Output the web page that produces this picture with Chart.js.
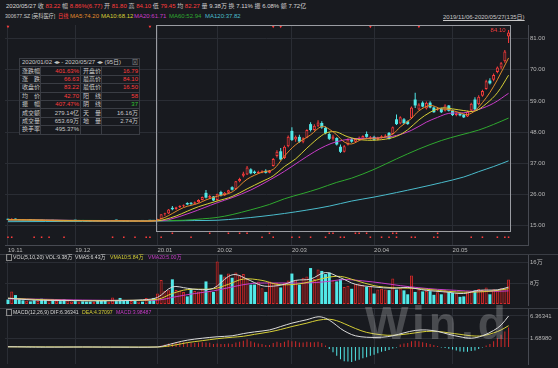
<!DOCTYPE html>
<html>
<head>
<meta charset="utf-8">
<script src="https://cdn.jsdelivr.net/npm/chart.js@4.4.1/dist/chart.umd.min.js"></script>
<style>
  body { margin: 0; background: #181a1f; }
  .wrap { position: relative; width: 558px; height: 368px; background: #181a1f; overflow: hidden;
          font-family: "Liberation Sans", "Noto Sans CJK SC", sans-serif; font-size: 6px; color: #c8c8c8; }
  canvas { position: absolute; left: 0; }
  .txt { position: absolute; white-space: nowrap; line-height: 8px; }
  .cond { transform: scaleX(0.86); transform-origin: 0 0; }
  .r { color: #ff3c3c; } .w { color: #d8d8d8; } .g { color: #31c431; }
  .hline { position: absolute; left: 0; width: 558px; height: 1px; background: #3a3d44; }
  .stat { position: absolute; left: 19px; top: 58px; width: 120px; table-layout: fixed; border-collapse: collapse;
          background: #181a1f; font-size: 6px; line-height: 7px; color: #c8c8c8; }
  .stat td { border: 1px solid #3a3d44; padding: 0 1px 0 2px; height: 7.4px; white-space: nowrap; overflow: hidden; }
  .stat td.v { text-align: right; }
  .box { position: absolute; width: 4px; height: 5px; border: 1px solid #888; }
  .mark { position: absolute; left: 365px; top: 296px; font: bold 46px "Liberation Sans", sans-serif;
          letter-spacing: 4px; color: rgba(215, 215, 215, 0.26); pointer-events: none; }
</style>
</head>
<body>
<div class="wrap">
  <canvas id="price" width="558" height="234" style="top:21px"></canvas>
  <canvas id="vol" width="558" height="54" style="top:254px"></canvas>
  <canvas id="macd" width="558" height="60" style="top:308px"></canvas>

  <div class="hline" style="top:254px"></div>
  <div class="hline" style="top:308px"></div>

  <div class="txt" style="left:6px;top:2px">
    <span class="w">2020/05/27</span> 收 <span class="r">83.22</span> 幅 <span class="r">8.86%(6.77)</span>
    开 <span class="r">81.80</span> 高 <span class="r">84.10</span> 低 <span class="r">79.45</span>
    均 <span class="r">82.27</span> 量 <span class="w">9.38万</span> 换 <span class="w">7.11%</span>
    振 <span class="w">6.08%</span> 额 <span class="w">7.72亿</span>
  </div>
  <div class="txt cond" style="left:5px;top:12px">300677.SZ [英科医疗]</div>
  <div class="txt r cond" style="left:58px;top:12px">日线</div>
  <div class="txt" style="left:70px;top:12px;color:#e08a2c">MA5:74.20</div>
  <div class="txt" style="left:101px;top:12px;color:#d6cf36">MA10:68.12</div>
  <div class="txt" style="left:134px;top:12px;color:#c83cc8">MA20:61.71</div>
  <div class="txt" style="left:169px;top:12px;color:#2fa82f">MA60:52.94</div>
  <div class="txt" style="left:205px;top:12px;color:#4bbccc">MA120:37.82</div>
  <div class="txt" style="left:443px;top:13px;color:#c8c8c8;text-decoration:underline">2019/11/06-2020/05/27(135日)</div>

  <table class="stat">
    <colgroup><col style="width:21px"><col style="width:40px"><col style="width:21px"><col style="width:38px"></colgroup>
    <tr><td colspan="4">2020/01/02 ◂▸ - 2020/05/27 ◂▸ (95日)<span style="float:right;color:#888">⊠</span></td></tr>
    <tr><td>涨跌幅</td><td class="v r">401.63%</td><td>开盘价</td><td class="v r">16.79</td></tr>
    <tr><td>涨　跌</td><td class="v r">66.63</td><td>最高价</td><td class="v r">84.10</td></tr>
    <tr><td>收盘价</td><td class="v r">83.22</td><td>最低价</td><td class="v r">16.50</td></tr>
    <tr><td>均　价</td><td class="v r">42.70</td><td>阳　线</td><td class="v r">58</td></tr>
    <tr><td>振　幅</td><td class="v r">407.47%</td><td>阴　线</td><td class="v g">37</td></tr>
    <tr><td>成交额</td><td class="v">279.14亿</td><td>天　量</td><td class="v">16.16万</td></tr>
    <tr><td>成交量</td><td class="v">653.69万</td><td>地　量</td><td class="v">2.74万</td></tr>
    <tr><td>换手率</td><td class="v">495.37%</td><td></td><td></td></tr>
  </table>

  <div class="box" style="left:6px;top:254px"></div>
  <div class="txt cond w" style="left:13px;top:253px">VOL(5,10,20) VOL:9.38万</div>
  <div class="txt cond w" style="left:75px;top:253px">VMA5:6.43万</div>
  <div class="txt cond" style="left:110px;top:253px;color:#d6cf36">VMA10:5.84万</div>
  <div class="txt cond" style="left:148px;top:253px;color:#c83cc8">VMA20:5.00万</div>

  <div class="box" style="left:6px;top:309px"></div>
  <div class="txt cond w" style="left:13px;top:308px">MACD(12,26,9) DIF:6.36341</div>
  <div class="txt cond" style="left:82px;top:308px;color:#d6cf36">DEA:4.37097</div>
  <div class="txt cond" style="left:116px;top:308px;color:#c83cc8">MACD:3.98487</div>

  <div class="mark">Win.d</div>
</div>

<script>
// daily candles 2019/11/06 .. 2020/05/27 (135 trading days)
const open = [17.20,16.95,17.30,17.00,16.90,16.75,16.90,16.85,16.65,16.80,16.60,16.55,16.75,16.60,16.68,16.50,16.45,16.62,
  16.72,16.65,16.70,16.55,16.50,16.42,16.55,16.45,16.40,16.35,16.55,16.85,16.70,16.52,16.45,16.40,16.58,16.50,16.66,16.55,16.78,16.62,
  16.79,17.25,18.90,19.20,21.20,20.70,21.40,21.90,22.90,22.90,22.60,23.20,24.00,26.50,24.80,25.20,
  24.00,26.80,25.60,26.50,28.50,27.90,30.60,32.50,33.00,34.80,34.00,33.50,33.60,34.30,33.60,36.00,39.50,41.20,38.80,43.00,
  48.40,45.40,46.30,44.60,46.00,50.80,48.70,50.20,51.20,49.50,47.30,45.60,45.90,42.80,41.00,43.50,45.40,44.60,45.20,45.60,47.30,45.80,
  46.30,45.30,46.00,46.30,47.70,47.30,52.50,51.00,52.50,51.80,52.90,59.50,56.00,58.40,56.30,58.40,56.70,55.90,56.30,55.50,57.40,
  55.60,54.00,54.50,54.20,53.50,55.60,59.50,57.80,60.80,63.20,66.20,66.50,69.20,70.80,73.00,81.80];
const high = [17.35,17.50,17.40,17.10,16.95,16.95,17.00,16.90,16.85,16.90,16.70,16.80,16.80,16.75,16.72,16.62,16.70,16.75,
  16.85,16.78,16.74,16.62,16.55,16.60,16.60,16.50,16.50,16.60,16.90,16.95,16.75,16.60,16.55,16.62,16.65,16.70,16.72,16.85,16.82,16.70,
  17.30,18.92,19.50,20.80,21.80,21.60,22.10,22.40,23.20,23.30,23.40,24.20,25.20,27.50,25.80,25.40,
  26.18,27.20,26.80,27.60,28.80,30.70,31.80,34.00,36.00,35.20,34.40,34.30,34.50,34.80,34.60,38.80,41.60,42.40,43.20,46.80,
  49.70,46.80,47.00,46.20,49.00,51.50,50.80,52.20,51.80,50.00,47.80,47.00,46.20,43.60,43.40,45.80,46.00,45.90,46.40,46.90,48.20,46.60,
  46.70,46.30,46.90,47.20,48.00,50.00,54.20,53.60,53.00,52.10,57.00,61.90,58.20,58.90,58.80,58.90,57.00,56.70,56.60,57.80,57.60,
  56.00,54.90,54.80,54.40,55.50,58.40,60.30,61.00,63.00,66.50,67.00,68.70,71.20,72.80,77.00,84.10];
const low = [16.90,16.90,16.95,16.80,16.70,16.70,16.80,16.60,16.60,16.55,16.45,16.50,16.55,16.50,16.45,16.35,16.40,16.55,
  16.60,16.55,16.50,16.40,16.35,16.40,16.40,16.30,16.28,16.32,16.50,16.60,16.45,16.38,16.35,16.38,16.45,16.48,16.50,16.52,16.55,16.50,
  16.50,17.20,18.40,19.00,20.30,20.50,21.10,21.50,22.10,22.20,22.40,23.00,23.80,24.50,24.40,23.60,
  23.50,25.20,25.40,26.20,27.30,27.70,30.20,32.00,32.80,33.10,33.20,33.20,33.40,33.30,33.40,35.80,39.00,38.00,38.50,42.60,
  44.80,44.60,44.20,44.00,45.80,48.20,48.50,49.80,49.20,47.20,45.20,45.00,43.20,40.60,40.80,43.20,44.20,44.30,45.00,45.40,46.00,45.40,
  45.00,45.10,45.70,46.10,45.40,47.00,50.50,50.80,50.90,50.60,52.60,56.50,55.80,56.80,56.00,56.40,54.80,55.50,54.70,55.30,55.30,
  53.70,53.60,53.60,53.00,53.30,55.40,55.70,57.50,60.50,63.00,64.80,66.00,68.80,70.20,72.50,79.45];
const close = [16.98,17.32,17.02,16.88,16.76,16.90,16.85,16.66,16.80,16.62,16.52,16.74,16.60,16.68,16.50,16.42,16.64,16.70,
  16.66,16.72,16.55,16.48,16.40,16.56,16.45,16.38,16.35,16.55,16.82,16.68,16.52,16.45,16.40,16.58,16.50,16.66,16.55,16.78,16.62,16.59,
  17.20,18.92,19.10,20.60,20.70,21.40,21.90,22.20,22.40,22.60,23.20,24.00,25.00,24.80,25.40,23.80,
  26.18,25.60,26.50,27.40,27.60,30.60,31.40,33.30,35.50,33.40,33.50,34.00,34.10,33.60,34.30,38.50,41.00,38.30,42.80,46.30,
  45.20,46.30,44.60,45.80,48.70,48.70,50.20,51.40,49.60,47.60,45.60,46.40,43.60,41.00,43.00,45.40,44.60,45.50,46.00,46.60,46.30,46.20,
  45.30,46.00,46.50,46.80,45.60,49.70,50.80,53.20,51.10,50.80,56.70,57.40,57.70,57.00,58.40,56.70,55.00,56.30,55.00,57.40,55.50,
  54.00,54.50,53.90,53.20,55.20,58.00,56.00,60.50,62.50,66.00,65.20,68.20,70.80,72.30,76.45,83.22];
// volume, 万手
const vol = [1.7,4.8,3.4,1.8,1.4,1.2,1.0,1.4,1.1,2.0,1.8,1.6,1.9,1.2,1.1,1.8,1.3,1.0,
  1.1,0.9,1.0,0.9,0.9,0.8,1.4,1.4,1.3,0.9,2.5,1.1,2.3,1.4,1.4,1.1,1.5,1.0,0.9,2.3,1.5,2.3,
  4.0,9.1,5.0,5.2,9.4,5.3,5.0,4.6,2.9,5.7,5.0,4.8,5.5,8.6,5.0,4.6,
  16.16,11.2,10.5,11.6,10.0,12.0,11.0,11.4,9.5,7.4,7.4,8.6,6.0,4.6,8.6,8.0,8.0,6.3,8.0,9.0,
  11.6,9.0,7.4,10.0,10.5,13.7,9.5,13.1,12.6,11.4,12.0,9.0,8.6,9.5,6.5,7.0,5.8,7.5,7.8,7.3,6.5,7.0,
  4.0,5.5,5.8,5.5,5.3,9.7,5.5,6.0,5.2,3.7,10.9,4.6,5.5,4.8,5.0,4.9,3.5,4.5,3.7,5.2,4.5,
  4.2,4.1,2.74,2.9,4.76,5.0,5.2,5.75,5.3,6.3,3.7,5.6,5.3,6.0,5.87,9.38];

// moving averages: [day index, value]
const ma5 = [[0,17.0],[5,16.95],[10,16.75],[15,16.55],[20,16.65],[25,16.5],[30,16.65],[35,16.5],[39,16.6],[42,17.8],[44,19.2],
  [47,21.3],[51,22.8],[53,24.0],[56,25.3],[60,26.8],[64,31.3],[68,33.8],[71,34.8],[74,39.5],[77,43.5],[81,47.0],[84,50.0],
  [86,49.0],[88,47.0],[90,44.5],[92,43.8],[95,45.5],[100,46.0],[103,47.3],[105,49.8],[108,52.8],[110,55.5],[113,57.4],
  [116,56.2],[118,56.0],[121,54.8],[123,54.2],[125,55.5],[127,58.4],[129,62.0],[131,66.5],[134,74.2]];
const ma10 = [[0,17.0],[10,16.85],[20,16.65],[30,16.55],[40,16.6],[42,17.1],[45,18.3],[48,20.0],[51,21.6],[56,23.6],[60,25.2],
  [64,27.9],[68,30.5],[71,32.5],[74,35.8],[77,38.5],[80,42.3],[84,46.8],[86,48.0],[88,48.0],[91,46.3],[95,45.2],[100,45.3],
  [104,46.5],[107,48.8],[110,52.3],[113,55.0],[116,56.5],[119,56.2],[122,55.6],[125,55.4],[128,58.0],[131,61.9],[134,68.12]];
const ma20 = [[0,16.9],[10,16.9],[20,16.7],[30,16.6],[40,16.6],[43,17.0],[49,19.5],[56,23.0],[60,24.8],[65,27.5],[70,31.0],
  [74,34.1],[78,37.6],[82,41.0],[85,43.1],[88,44.6],[92,45.6],[96,45.8],[100,46.0],[104,46.8],[108,48.6],[112,51.5],
  [115,53.2],[118,54.6],[122,54.8],[126,56.0],[130,58.2],[134,61.71]];
const ma60 = [[0,16.8],[20,16.75],[40,16.65],[47,16.8],[52,17.3],[56,17.8],[60,18.8],[65,20.5],[70,22.4],[74,24.4],[79,26.3],
  [83,27.9],[88,30.2],[92,31.7],[98,34.8],[104,38.5],[110,42.0],[116,45.0],[121,46.9],[126,48.7],[130,50.7],[134,52.94]];
const ma120 = [[0,16.3],[20,16.4],[40,16.55],[50,16.7],[56,16.8],[62,17.4],[68,18.2],[74,19.2],[80,20.4],[86,21.8],[92,23.6],
  [98,25.0],[104,26.6],[110,28.3],[116,30.1],[122,32.1],[126,34.0],[130,35.8],[134,37.82]];

// volume averages
const vma5 = [[0,2.2],[7,1.5],[17,1.3],[26,1.2],[36,1.6],[40,2.5],[44,6.5],[48,6.0],[51,5.5],[55,6.0],[59,10.5],[61,11.2],
  [64,9.5],[68,7.0],[71,6.8],[74,7.5],[77,9.0],[81,9.5],[85,12.0],[89,10.0],[93,7.5],[98,6.5],[103,6.0],[107,6.3],
  [112,5.2],[117,4.6],[122,4.0],[126,5.2],[131,5.4],[134,6.43]];
const vma10 = [[0,2.2],[10,1.6],[20,1.3],[30,1.4],[40,1.8],[44,4.0],[48,5.5],[55,5.8],[59,7.5],[63,9.5],[68,9.0],[72,7.5],
  [77,7.5],[81,8.5],[85,10.0],[89,10.5],[93,9.0],[98,7.0],[103,6.2],[108,6.0],[113,5.5],[118,4.8],[122,4.5],[126,4.6],
  [130,5.0],[134,5.84]];
const vma20 = [[0,2.0],[10,1.8],[20,1.5],[30,1.4],[40,1.5],[45,2.8],[50,4.0],[55,5.0],[60,6.5],[65,7.8],[70,8.0],[75,8.0],
  [80,8.0],[85,8.5],[90,9.3],[95,8.8],[100,8.0],[105,7.0],[110,6.2],[115,5.6],[120,5.2],[125,4.8],[130,4.8],[134,5.0]];

// MACD(12,26,9)
const dif = [[0,0.05],[10,-0.02],[20,0.0],[30,-0.02],[40,0.0],[42,0.3],[45,0.9],[48,1.4],[52,1.8],[56,2.1],[60,2.3],[63,2.75],
  [66,3.1],[70,3.5],[73,4.2],[76,4.9],[80,5.6],[83,6.2],[85,5.9],[87,5.0],[89,3.8],[91,2.9],[93,2.3],[96,2.0],[100,2.0],
  [103,2.3],[106,2.9],[109,3.4],[112,3.5],[115,3.2],[118,2.6],[121,2.1],[124,1.8],[127,2.3],[130,3.4],[132,4.5],[134,6.36341]];
const dea = [[0,0.04],[20,0.0],[40,0.0],[42,0.1],[45,0.45],[48,0.9],[52,1.3],[56,1.7],[60,2.0],[63,2.2],[66,2.6],[70,3.1],
  [73,3.6],[76,4.2],[80,4.9],[83,5.5],[86,5.7],[88,5.4],[90,4.8],[93,3.8],[96,3.0],[100,2.5],[103,2.4],[106,2.6],[109,2.9],
  [112,3.2],[115,3.2],[118,2.9],[121,2.6],[124,2.3],[127,2.3],[130,2.9],[132,3.5],[134,4.37097]];
const macd = [0.03,0.05,0.04,0.01,-0.02,-0.03,-0.03,-0.04,-0.03,-0.03,-0.04,-0.02,-0.02,-0.01,-0.02,-0.03,-0.01,0.0,
  0.01,0.01,0.0,-0.01,-0.02,-0.01,-0.02,-0.03,-0.03,-0.01,0.02,0.01,0.0,-0.01,-0.02,-0.01,-0.01,0.0,-0.01,0.02,0.01,0.0,
  0.05,0.3,0.5,0.7,0.8,0.9,1.0,1.0,0.9,0.85,0.85,0.9,1.0,0.9,0.85,0.6,
  0.7,0.6,0.6,0.7,0.6,0.9,1.1,1.3,1.6,1.2,0.9,0.7,0.6,0.4,0.4,0.8,1.1,0.8,1.1,1.4,
  1.2,1.2,0.9,0.9,1.1,1.0,1.0,1.1,0.8,0.3,-0.4,-1.1,-1.8,-2.5,-2.9,-3.0,-3.1,-2.8,-2.6,-2.3,-2.1,-1.8,
  -1.6,-1.3,-1.0,-0.8,-0.6,-0.3,-0.1,0.5,0.7,0.8,1.2,1.3,1.2,1.0,0.8,0.6,0.4,0.2,-0.1,-0.2,-0.35,
  -0.5,-0.7,-0.9,-1.0,-1.0,-0.8,-0.7,-0.4,-0.1,0.3,0.6,1.2,1.8,2.5,3.2,3.98487];

// event markers under the candles, and the small flags along the top
const markLow = [0,1,7,9,11,15,28,31,34,37,38,41,49,68,71,76,78,81,85,89,90,97,100,102,104,108,109,114,115,124,127,131,133,134];
const markHigh = [44,54,59,62,64,70,86,87,93,94,96,103,104,115];
const flagTop = [0,38,71,73,97,110];

const monthIdx = [0,18,40,56,76,98,119];
const monthLabels = ['19.11','19.12','20.01','20.02','20.03','20.04','20.05'];
const priceTicks = [15,26,37,48,59,70,81];
const volTicks = [8,16];
const macdTicks = [1.6898,6.36341];
const selFrom = 40, selTo = 134;

const RED = '#ff3c3c', CYAN = '#52e8e8', BG = '#181a1f', GRID = '#2a2d34', AXIS = '#474a52', TXT = '#b8b8b8';
const FONT = '"Liberation Sans", "Noto Sans CJK SC", sans-serif';
Chart.defaults.font.family = FONT;
Chart.defaults.font.size = 6;

const days = close.map((c, i) => i);
const isUp = i => close[i] >= open[i];
const pts = list => list.map(p => ({ x: p[0], y: p[1] }));
const line = (data, color, order) => ({ type: 'line', data: pts(data), borderColor: color, borderWidth: 1,
  pointRadius: 0, tension: 0.35, order: order });

const xScale = (showLabels) => ({
  type: 'linear', min: -0.8, max: 139.2, offset: false,
  grid: { color: GRID, drawTicks: false, offset: false },
  border: { display: showLabels, color: AXIS },
  afterBuildTicks: s => { s.ticks = monthIdx.map(v => ({ value: v })); },
  afterFit: s => { s.height = showLabels ? 10 : 0; s.paddingLeft = 0; s.paddingRight = 0; },
  ticks: { display: showLabels, autoSkip: false, maxRotation: 0, align: 'start', padding: 2, color: TXT,
           callback: (v, i) => monthLabels[i] }
});
const yScale = (min, max, ticks, fmt) => ({
  position: 'right', min: min, max: max,
  grid: { color: GRID, drawTicks: false },
  border: { display: true, color: AXIS },
  afterBuildTicks: s => { s.ticks = ticks.map(v => ({ value: v })); },
  afterFit: s => { s.width = 30; s.paddingTop = 0; s.paddingBottom = 0; },
  ticks: { padding: 2, color: TXT, callback: fmt }
});
const baseOpts = {
  responsive: false, animation: false, events: [],
  plugins: { legend: { display: false }, tooltip: { enabled: false } },
};

const selBox = {
  id: 'selBox',
  afterDatasetsDraw(chart) {
    const { ctx, chartArea, scales: { x, y } } = chart;
    const l = Math.round(x.getPixelForValue(selFrom - 0.5)) + 0.5;
    const r = Math.round(x.getPixelForValue(selTo + 0.5)) + 0.5;
    const b = Math.round(chartArea.bottom - 14) + 0.5;
    ctx.save();
    ctx.strokeStyle = '#9a9ca2';
    ctx.lineWidth = 1;
    ctx.strokeRect(l, chartArea.top + 0.5, r - l, b - chartArea.top - 0.5);
    const last = close.length - 1;
    ctx.fillStyle = RED;
    ctx.font = '6px ' + FONT;
    ctx.textAlign = 'right';
    ctx.textBaseline = 'middle';
    ctx.fillText(high[last].toFixed(2), x.getPixelForValue(last) - 3, y.getPixelForValue(high[last]));
    ctx.restore();
  }
};

new Chart(document.getElementById('price'), {
  type: 'bar',
  data: {
    datasets: [
      line(ma5, '#e08a2c', 0), line(ma10, '#d6cf36', 0), line(ma20, '#c83cc8', 0),
      line(ma60, '#2fa82f', 0), line(ma120, '#4bbccc', 0),
      { type: 'line', data: markLow.map(i => ({ x: i, y: 10.8 })), showLine: false, pointStyle: 'rect',
        pointRadius: 1.1, pointBackgroundColor: RED, pointBorderWidth: 0, order: 1 },
      { type: 'line', data: markHigh.map(i => ({ x: i, y: 12.2 })), showLine: false, pointStyle: 'rect',
        pointRadius: 1.1, pointBackgroundColor: RED, pointBorderWidth: 0, order: 1 },
      { type: 'line', data: flagTop.map(i => ({ x: i, y: 85.3 })), showLine: false, pointStyle: 'triangle',
        rotation: 180, pointRadius: 1.6, pointBackgroundColor: RED, pointBorderWidth: 0, order: 1 },
      { type: 'bar', data: days.map(i => ({ x: i, y: [Math.min(open[i], close[i]), Math.max(open[i], close[i])] })),
        backgroundColor: days.map(i => isUp(i) ? BG : CYAN), borderColor: days.map(i => isUp(i) ? RED : CYAN),
        borderWidth: days.map(i => isUp(i) ? 1 : 0), borderSkipped: false, barThickness: 3, minBarLength: 1,
        inflateAmount: 0, grouped: false, order: 2 },
      { type: 'bar', data: days.map(i => ({ x: i, y: [low[i], high[i]] })),
        backgroundColor: days.map(i => isUp(i) ? RED : CYAN), borderWidth: 0, barThickness: 1,
        inflateAmount: 0, grouped: false, order: 3 }
    ]
  },
  options: Object.assign({}, baseOpts, {
    layout: { padding: { left: 5, top: 0, right: 0, bottom: 0 } },
    scales: { x: xScale(true), y: yScale(8.05, 85.86, priceTicks, v => v.toFixed(2)) }
  }),
  plugins: [selBox]
});

new Chart(document.getElementById('vol'), {
  type: 'bar',
  data: {
    datasets: [
      line(vma5, '#d8d8d8', 0), line(vma10, '#d6cf36', 0), line(vma20, '#c83cc8', 0),
      { type: 'bar', data: days.map(i => ({ x: i, y: vol[i] })),
        backgroundColor: days.map(i => isUp(i) ? '#5a1416' : CYAN), borderColor: days.map(i => isUp(i) ? '#d02a2a' : CYAN),
        borderWidth: days.map(i => isUp(i) ? 1 : 0), borderSkipped: false, barThickness: 3,
        inflateAmount: 0, grouped: false, order: 2 }
    ]
  },
  options: Object.assign({}, baseOpts, {
    layout: { padding: { left: 5, top: 1, right: 0, bottom: 3 } },
    scales: { x: xScale(false), y: yScale(-0.38, 18.67, volTicks, v => v + '万') }
  })
});

new Chart(document.getElementById('macd'), {
  type: 'bar',
  data: {
    datasets: [
      line(dif, '#dcdcdc', 0), line(dea, '#d6cf36', 0),
      { type: 'bar', data: days.map(i => ({ x: i, y: macd[i] })),
        backgroundColor: days.map(i => macd[i] >= 0 ? '#d02a2a' : CYAN), barThickness: 1,
        inflateAmount: 0, grouped: false, order: 2 }
    ]
  },
  options: Object.assign({}, baseOpts, {
    layout: { padding: { left: 5, top: 1, right: 0, bottom: 4 } },
    scales: { x: xScale(false), y: yScale(-3.49, 7.8, macdTicks, v => v.toFixed(5)) }
  })
});
</script>
</body>
</html>
